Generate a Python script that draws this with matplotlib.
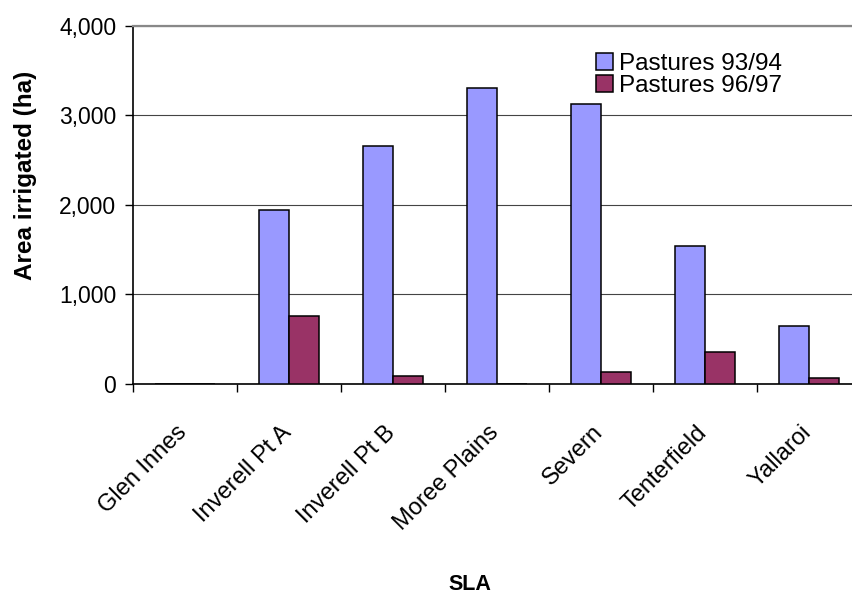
import numpy as np
import matplotlib.pyplot as plt
from matplotlib.transforms import ScaledTranslation

plt.rcParams['font.family'] = ['Liberation Sans', 'DejaVu Sans']

# irrigated pasture area by SLA (ha)
slas = ['Glen Innes', 'Inverell Pt A', 'Inverell Pt B', 'Moree Plains',
        'Severn', 'Tenterfield', 'Yallaroi']
pastures_9394 = [0, 1945, 2655, 3305, 3125, 1545, 650]
pastures_9697 = [0, 760, 90, 0, 135, 360, 70]
yticks = [0, 1000, 2000, 3000, 4000]

fig = plt.figure(figsize=(8.52, 5.99), dpi=100)
# plot area runs past the right edge of the image
ax = fig.add_axes([133/852, 215/599, 728/852, 358.3/599])

x = np.arange(len(slas))
w = 0.29
ax.bar(x - w/2, pastures_9394, w, color='#9999FF', edgecolor='black',
       linewidth=1.1, label='Pastures 93/94', zorder=3)
ax.bar(x + w/2, pastures_9697, w, color='#993366', edgecolor='black',
       linewidth=1.1, label='Pastures 96/97', zorder=3)

ax.set_xlim(-0.5, len(slas) - 0.5)
ax.set_ylim(0, 4000)
ax.set_yticks(yticks)
ax.set_yticklabels([f'{v:,}' for v in yticks], fontsize=16.5)
ax.yaxis.grid(True, color='#444444', linewidth=0.8, zorder=0)

ax.set_xticks(x)
ax.set_xticklabels(slas, fontsize=17, rotation=45, ha='right',
                   rotation_mode='anchor')
ax.set_xticks(np.arange(len(slas) + 1) - 0.5, minor=True)
ax.tick_params(axis='x', which='major', length=0, pad=27)
ax.tick_params(axis='x', which='minor', length=6, width=1, direction='out')
ax.tick_params(axis='y', length=6, width=1, direction='out', pad=6)
shift = ScaledTranslation(-9/100, 0, fig.dpi_scale_trans)
for lab in ax.get_xticklabels():
    lab.set_transform(lab.get_transform() + shift)

for s in ['left', 'bottom']:
    ax.spines[s].set_color('black')
    ax.spines[s].set_linewidth(1.2)
ax.spines['top'].set_color('#888888')
ax.spines['top'].set_linewidth(1.6)
ax.spines['right'].set_visible(False)

fig.text(26/852, 1 - 175/599, 'Area irrigated (ha)', rotation=90,
         ha='center', va='center', fontsize=17.5, fontweight='bold')
fig.text(470/852, 1 - 585/599, 'SLA', ha='center', va='center',
         fontsize=15.5, fontweight='bold')

ax.legend(loc='upper left', bbox_to_anchor=(596/852, 1 - 53/599),
          bbox_transform=fig.transFigure, frameon=False, fontsize=17.5,
          handlelength=0.7, handleheight=0.7, handletextpad=0.25,
          labelspacing=0.0, borderpad=0, borderaxespad=0)

fig.savefig('out.png', dpi=100)
